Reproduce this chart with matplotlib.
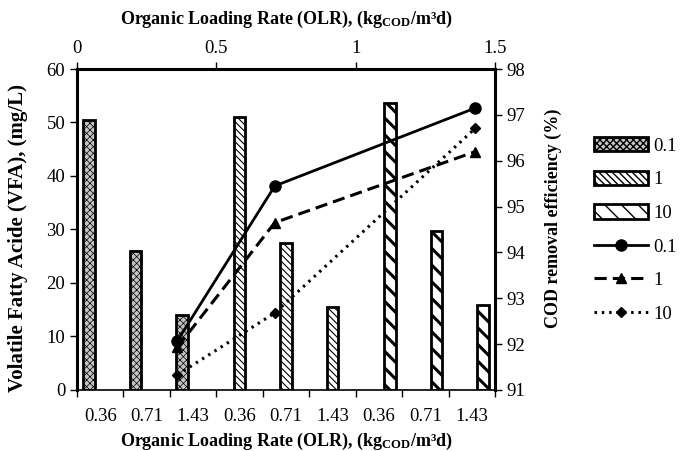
'''VFA bars and COD removal lines vs OLR'''
import numpy as np
import matplotlib
matplotlib.use('Agg')
import matplotlib.pyplot as plt
from matplotlib import rcParams
from matplotlib.patches import Patch
from matplotlib.lines import Line2D
params = {'font.family': 'Liberation Serif', 'font.size': 13.5,
          'mathtext.fontset': 'custom', 'mathtext.rm': 'Liberation Serif',
          'mathtext.bf': 'Liberation Serif:bold', 'mathtext.it': 'Liberation Serif:italic'}
rcParams.update(params)

# data
cats = ['0.36', '0.71', '1.43', '0.36', '0.71', '1.43', '0.36', '0.71', '1.43']
series = ['0.1', '1', '10']
vfa_01 = [50.4, 26.0, 14.1]
vfa_1 = [51.0, 27.5, 15.5]
vfa_10 = [53.7, 29.8, 15.8]
olr = [0.36, 0.71, 1.43]
cod_01 = [92.07, 95.45, 97.15]
cod_1 = [91.93, 94.65, 96.2]
cod_10 = [91.33, 92.68, 96.71]

# bar styles: (face, hatch, hatch linewidth)
sty = [('#c4c4c4', 'xxxxx', 0.5), ('white', '\\\\\\\\\\', 0.8), ('white', '\\\\', 2.2)]

fig = plt.figure(figsize=(6.83, 4.51), dpi=100)
ax = fig.add_axes([0.1127, 0.1353, 0.612, 0.7117])

w = 0.25
off = 0.237
x = np.arange(len(cats))
vals = [vfa_01, vfa_1, vfa_10]
handles = []
for i in range(3):
    fc, hp, hl = sty[i]
    with plt.rc_context({'hatch.linewidth': hl}):
        ax.bar(x[3*i:3*i+3] + (i - 1) * off, vals[i], w, color=fc, edgecolor='k', linewidth=2, hatch=hp)
        handles.append(Patch(facecolor=fc, edgecolor='k', linewidth=2, hatch=hp))

ax.set_xlim(-0.5, 8.5)
ax.set_ylim(0, 60)
ax.set_yticks(np.arange(0, 61, 10))
ax.set_xticks(x)
ax.set_xticklabels(cats)
ax.set_xticks(np.arange(-0.5, 9, 1), minor=True)
ax.tick_params(axis='x', which='major', length=0, pad=13)
ax.tick_params(axis='x', which='minor', length=5, direction='out', width=1)
ax.tick_params(axis='y', length=5, direction='out', width=1)
ax.spines['left'].set_linewidth(2.2)
ax.spines['bottom'].set_linewidth(1.2)
ax.spines['top'].set_linewidth(2.2)
ax.spines['right'].set_linewidth(2.2)
lab = 'Organic Loading Rate (OLR), (kg$_{\\mathbf{COD}}$/m³d)'
ax.set_ylabel('Volatile Fatty Acide (VFA), (mg/L)', fontweight='bold', fontsize=15)
ax.yaxis.set_label_coords(-0.117, 0.473)
ax.set_xlabel(lab, fontweight='bold', fontsize=13)
ax.xaxis.set_label_coords(0.5, -0.128)

# secondary axes for lines
ax2 = fig.add_axes(ax.get_position(), frameon=False)
ax2.xaxis.tick_top()
ax2.xaxis.set_label_position('top')
ax2.yaxis.tick_right()
ax2.yaxis.set_label_position('right')
ax2.set_xlim(0, 1.5)
ax2.set_ylim(91, 98)
ax2.set_xticks([0, 0.5, 1, 1.5])
ax2.set_xticklabels(['0', '0.5', '1', '1.5'])
ax2.set_yticks(np.arange(91, 99, 1))
ax2.tick_params(axis='both', length=5, direction='out', width=1)
ax2.plot(olr, cod_01, c='k', lw=2, ls='-', marker='o', ms=8)
ax2.plot(olr, cod_1, c='k', lw=2.2, ls=(0, (4, 2)), marker='^', ms=7)
ax2.plot(olr, cod_10, c='k', lw=2.2, ls=(0, (0.8, 1.6)), marker='D', ms=5.5)
ax2.set_ylabel('COD removal efficiency (%)', fontweight='bold', fontsize=13)
ax2.yaxis.set_label_coords(1.12, 0.536)
ax2.set_xlabel(lab, fontweight='bold', fontsize=13)
ax2.xaxis.set_label_coords(0.5, 1.14)

handles += [
    Line2D([], [], c='k', lw=2, ls='-', marker='o', ms=8),
    Line2D([], [], c='k', lw=2.2, ls=(0, (4, 2)), marker='^', ms=7),
    Line2D([], [], c='k', lw=2.2, ls=(0, (0.8, 1.6)), marker='D', ms=5.5),
]
labels = series + series
fig.legend(handles, labels, loc='center left', bbox_to_anchor=(0.845, 0.49), frameon=False,
           labelspacing=0.85, handlelength=2.9, handletextpad=0.25, handleheight=0.8, fontsize=13.5)

plt.savefig('out.png', dpi=100)
